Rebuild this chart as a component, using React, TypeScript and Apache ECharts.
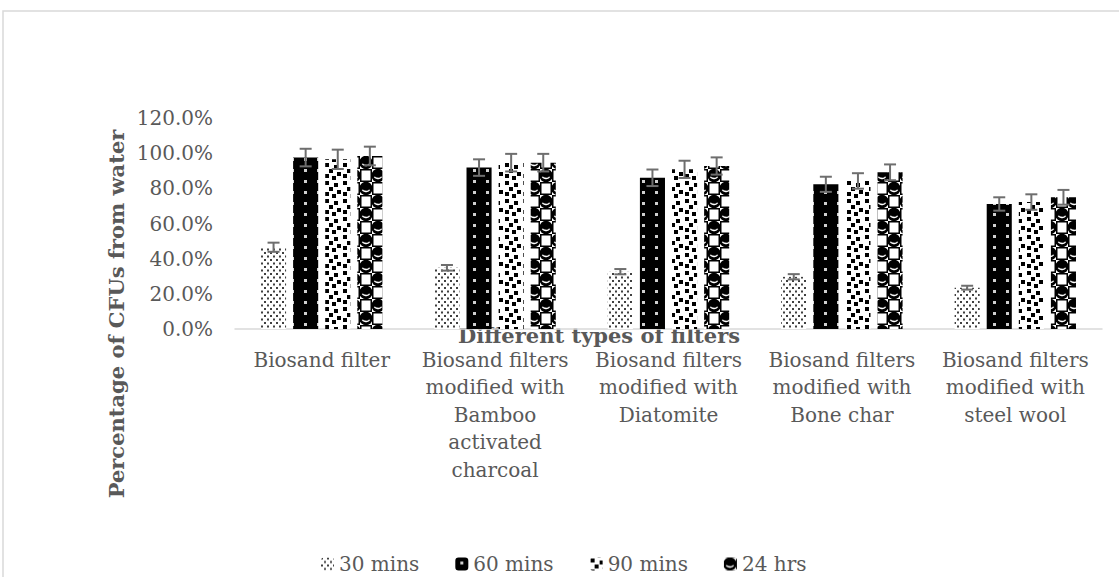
import React, { useEffect, useRef } from "react";
import * as echarts from "echarts";

const categories = [
  "Biosand filter",
  "Biosand filters modified with Bamboo activated charcoal",
  "Biosand filters modified with Diatomite",
  "Biosand filters modified with Bone char",
  "Biosand filters modified with steel wool",
];
const categoryLines = [
  "Biosand filter",
  "Biosand filters\nmodified with\nBamboo\nactivated\ncharcoal",
  "Biosand filters\nmodified with\nDiatomite",
  "Biosand filters\nmodified with\nBone char",
  "Biosand filters\nmodified with\nsteel wool",
];
const seriesNames = ["30 mins", "60 mins", "90 mins", "24 hrs"];
const mins30 = [46.5, 34.8, 32.6, 29.7, 23.5];
const mins60 = [97.5, 91.8, 86.0, 82.3, 71.1];
const mins90 = [96.5, 94.6, 90.8, 84.2, 72.2];
const hrs24 = [98.4, 94.6, 92.7, 89.1, 74.9];
const err30 = [2.6, 1.6, 1.5, 1.5, 1.1];
const err60 = [5.0, 4.7, 4.7, 4.3, 3.8];
const err90 = [5.5, 5.0, 4.9, 4.4, 4.4];
const err24 = [5.3, 5.0, 4.9, 4.5, 4.2];
const yTicks = { min: 0, max: 120, interval: 20 };

const values = [mins30, mins60, mins90, hrs24];
const errors = [err30, err60, err90, err24];

function makeCanvas(w: number, h: number, draw: (c: CanvasRenderingContext2D) => void) {
  const cv = document.createElement("canvas");
  cv.width = w;
  cv.height = h;
  const ctx = cv.getContext("2d")!;
  draw(ctx);
  return cv;
}

function patterns() {
  const p30 = makeCanvas(6, 7, (c) => {
    c.fillStyle = "#ffffff";
    c.fillRect(0, 0, 6, 7);
    c.fillStyle = "#404040";
    c.fillRect(0, 0, 2, 2);
    c.fillRect(3, 3.5, 2, 2);
  });
  const p60 = makeCanvas(13, 11, (c) => {
    c.fillStyle = "#000000";
    c.fillRect(0, 0, 13, 11);
    c.fillStyle = "#d0d0d0";
    c.fillRect(5, 4, 3, 3);
  });
  const p90 = makeCanvas(18, 18, (c) => {
    c.fillStyle = "#ffffff";
    c.fillRect(0, 0, 18, 18);
    c.fillStyle = "#000000";
    const sq: [number, number][] = [
      [1, 1], [10, 3], [5, 7], [13, 10], [1, 12], [8, 14],
    ];
    sq.forEach(([x, y]) => c.fillRect(x, y, 4, 4));
  });
  const p24 = makeCanvas(24, 26, (c) => {
    c.fillStyle = "#ffffff";
    c.fillRect(0, 0, 24, 26);
    const blob = (cx: number, cy: number) => {
      c.fillStyle = "#000000";
      c.beginPath();
      c.ellipse(cx, cy, 6.6, 6.8, 0, 0, Math.PI * 2);
      c.fill();
      c.strokeStyle = "#ffffff";
      c.lineWidth = 1.4;
      c.beginPath();
      c.ellipse(cx, cy + 0.5, 3.8, 2.4, 0, 0.1 * Math.PI, 0.9 * Math.PI);
      c.stroke();
    };
    const frame = (x: number, y: number) => {
      c.strokeStyle = "#000000";
      c.lineWidth = 1.5;
      c.strokeRect(x + 0.75, y + 0.75, 10.5, 11.5);
    };
    blob(6, 6.5);
    blob(18, 19.5);
    frame(12, 0);
    frame(0, 13);
  });
  return [p30, p60, p90, p24].map((img) => ({ image: img, repeat: "repeat" }));
}

export default function App() {
  const ref = useRef<HTMLDivElement>(null);
  useEffect(() => {
    if (!ref.current) return;
    const chart = echarts.init(ref.current, undefined, { renderer: "svg" });
    const pats = patterns();
    const font = "DejaVu Serif";
    const textColor = "#595959";

    const barSeries = seriesNames.map((name, i) => ({
      name,
      type: "bar",
      data: values[i],
      barGap: "28%",
      barCategoryGap: "30%",
      itemStyle: { color: pats[i] as any },
    }));

    const errData: number[][] = [];
    values.forEach((arr, s) => {
      arr.forEach((v, c) => errData.push([c, s, v, errors[s][c]]));
    });

    const option: any = {
      animation: false,
      textStyle: { fontFamily: font },
      grid: { left: 235, right: 17, top: 118, bottom: 248 },
      legend: {
        data: seriesNames,
        top: 549,
        left: 316,
        itemWidth: 13,
        itemHeight: 13,
        itemGap: 36,
        textStyle: { color: textColor, fontSize: 20, fontFamily: font },
      },
      xAxis: {
        type: "category",
        data: categories,
        axisLine: { lineStyle: { color: "#d9d9d9", width: 1.5 } },
        axisTick: { show: false },
        axisLabel: {
          interval: 0,
          margin: 17,
          color: textColor,
          fontSize: 20,
          lineHeight: 27.5,
          fontFamily: font,
          formatter: (_v: string, idx: number) => categoryLines[idx],
        },
      },
      yAxis: {
        type: "value",
        min: yTicks.min,
        max: yTicks.max,
        interval: yTicks.interval,
        splitLine: { show: false },
        axisLine: { show: false },
        axisLabel: {
          margin: 22,
          color: textColor,
          fontSize: 20,
          fontFamily: font,
          formatter: (v: number) => v.toFixed(1) + "%",
        },
      },
      graphic: [
        {
          type: "rect",
          shape: { x: 3, y: 11, width: 1140, height: 620 },
          style: { fill: "none", stroke: "#d9d9d9", lineWidth: 1.5 },
          silent: true,
        },
        {
          type: "text",
          x: 599,
          y: 335,
          style: {
            text: "Different types of filters",
            fontFamily: font,
            fontWeight: "bold",
            fontSize: 21,
            fill: textColor,
            align: "center",
            verticalAlign: "middle",
          },
        },
        {
          type: "text",
          x: 116,
          y: 314,
          rotation: Math.PI / 2,
          style: {
            text: "Percentage of CFUs from water",
            fontFamily: font,
            fontWeight: "bold",
            fontSize: 21,
            fill: textColor,
            align: "center",
            verticalAlign: "middle",
          },
        },
      ],
      series: [
        ...barSeries,
        {
          type: "custom",
          name: "errors",
          data: errData,
          encode: { x: 0, y: 2 },
          z: 10,
          renderItem: (params: any, api: any) => {
            const c = api.value(0);
            const s = api.value(1);
            const v = api.value(2);
            const e = api.value(3);
            const band = api.size([1, 0])[0];
            const total = band * 0.7;
            const bw = total / (4 + 3 * 0.28);
            const off = (s - 1.5) * bw * 1.28;
            const hi = api.coord([c, v + e]);
            const lo = api.coord([c, v - e]);
            const x = hi[0] + off;
            const cap = 6;
            const st = { stroke: "#6e6e6e", lineWidth: 2 };
            return {
              type: "group",
              children: [
                { type: "line", shape: { x1: x, y1: hi[1], x2: x, y2: lo[1] }, style: st },
                { type: "line", shape: { x1: x - cap, y1: hi[1], x2: x + cap, y2: hi[1] }, style: st },
                { type: "line", shape: { x1: x - cap, y1: lo[1], x2: x + cap, y2: lo[1] }, style: st },
              ],
            };
          },
        },
      ],
    };
    chart.setOption(option);
    return () => chart.dispose();
  }, []);
  return (
    <div
      ref={ref}
      style={{ position: "fixed", left: 0, top: 0, width: 1119, height: 577, background: "#fff" }}
    />
  );
}
